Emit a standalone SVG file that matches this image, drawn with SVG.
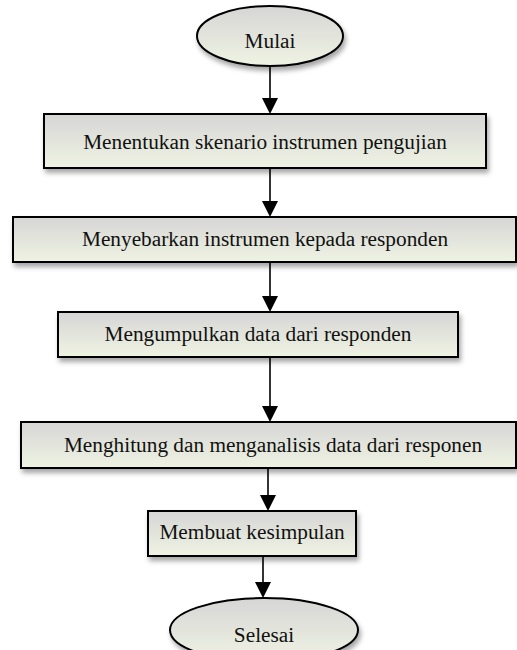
<svg xmlns="http://www.w3.org/2000/svg" width="517" height="650" viewBox="0 0 517 650">
<defs>
<linearGradient id="g" x1="0" y1="0" x2="0" y2="1">
<stop offset="0" stop-color="#d6d6d6"/>
<stop offset="1" stop-color="#eff3e2"/>
</linearGradient>
<filter id="sh" x="-10%" y="-20%" width="130%" height="160%">
<feDropShadow dx="2" dy="4" stdDeviation="2.5" flood-color="#000" flood-opacity="0.35"/>
</filter>
</defs>
<style>
.n{fill:url(#g);stroke:#000;stroke-width:2;filter:url(#sh)}
text{font-family:'Liberation Serif','Times New Roman',serif;font-size:21.3px;fill:#111;text-anchor:middle}
.c{stroke:#000;stroke-width:1.6;fill:none}
.h{fill:#000}
</style>
<g id="connectors">
<line class="c" x1="270" y1="66" x2="270" y2="100"/><path class="h" d="M262,98 L278,98 L270,114 Z"/>
<line class="c" x1="270" y1="168" x2="270" y2="203"/><path class="h" d="M262,201 L278,201 L270,217 Z"/>
<line class="c" x1="270" y1="262" x2="270" y2="298"/><path class="h" d="M262,296 L278,296 L270,312 Z"/>
<line class="c" x1="270" y1="357" x2="270" y2="408"/><path class="h" d="M262,406 L278,406 L270,422 Z"/>
<line class="c" x1="268" y1="468" x2="268" y2="497"/><path class="h" d="M260,495 L276,495 L268,511 Z"/>
<line class="c" x1="263" y1="556" x2="263" y2="584"/><path class="h" d="M255,582 L271,582 L263,598 Z"/>
</g>
<g id="mulai">
<ellipse class="n" cx="270" cy="36" rx="73" ry="30"/>
<text x="270" y="48">Mulai</text>
</g>
<g id="step1">
<rect class="n" x="44" y="114" width="442" height="54"/>
<text x="265" y="149">Menentukan skenario instrumen pengujian</text>
</g>
<g id="step2">
<rect class="n" x="13" y="217" width="503" height="45"/>
<text x="265" y="246">Menyebarkan instrumen kepada responden</text>
</g>
<g id="step3">
<rect class="n" x="58" y="312" width="400" height="45"/>
<text x="258" y="341">Mengumpulkan data dari responden</text>
</g>
<g id="step4">
<rect class="n" x="21" y="422" width="495" height="46"/>
<text x="273" y="452">Menghitung dan menganalisis data dari responen</text>
</g>
<g id="step5">
<rect class="n" x="148" y="511" width="208" height="45"/>
<text x="252" y="539">Membuat kesimpulan</text>
</g>
<g id="selesai">
<ellipse class="n" cx="264" cy="630" rx="94" ry="32"/>
<text x="264" y="642">Selesai</text>
</g>
</svg>
